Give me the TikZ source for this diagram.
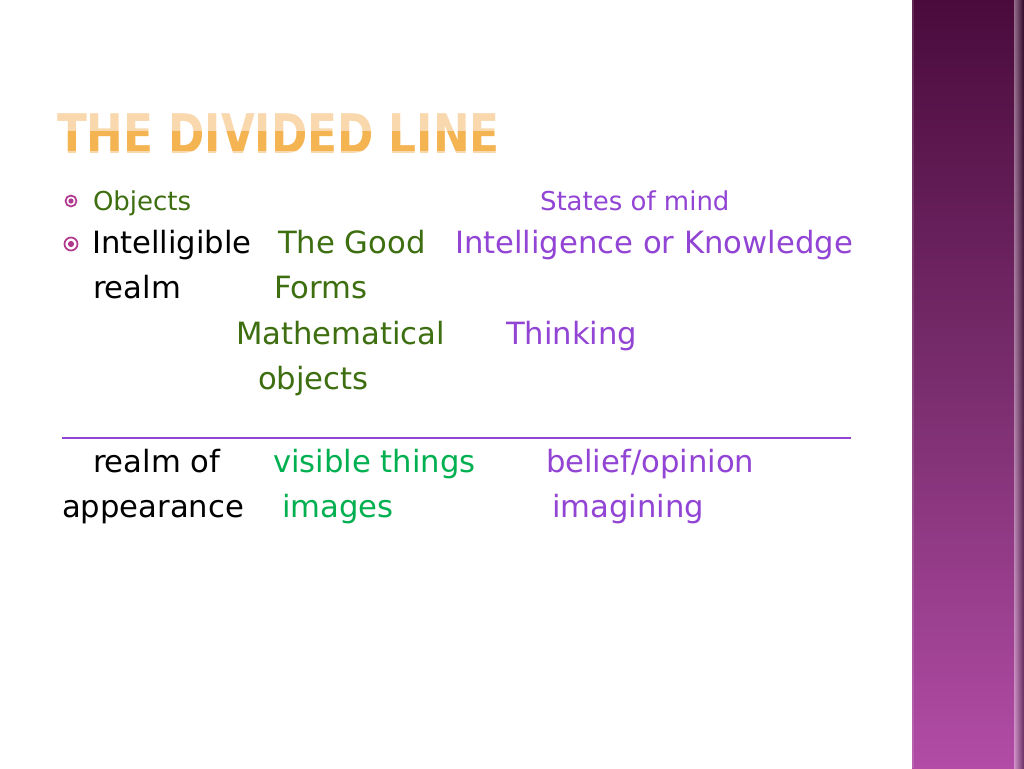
\documentclass[tikz,border=0pt]{standalone}
\usepackage{fontspec}
\setmainfont{DejaVu Sans}
\usetikzlibrary{calc}
\definecolor{dkgreen}{HTML}{3D6E0F}
\definecolor{brgreen}{HTML}{00B050}
\definecolor{lila}{HTML}{9244D4}
\definecolor{bulletc}{HTML}{B0398E}
\definecolor{titlelight}{HTML}{FAD8AE}
\definecolor{titlemid}{HTML}{F5B452}
\definecolor{bartop}{HTML}{4A0B3C}
\definecolor{barmid}{HTML}{7A2D6E}
\definecolor{barbot}{HTML}{B24CA6}
\tikzset{
  txt/.style={anchor=base west,inner sep=0pt,outer sep=0pt},
  big/.style={txt,font=\fontsize{23}{28}\selectfont},
  small/.style={txt,font=\fontsize{19.5}{24}\selectfont},
  ttl/.style={txt,font=\bfseries\fontsize{41}{48}\selectfont},
  bul/.style={draw=bulletc,line width=1.3pt}
}
\newcommand{\ttltext}{\scalebox{0.80}[1.0]{THE DIVIDED LINE}}
\begin{document}
\begin{tikzpicture}[x=0.75pt,y=-0.75pt]
\useasboundingbox (0,0) rectangle (1024,768);
\fill[white] (0,0) rectangle (1024,768);
% side bar
\shade[top color=bartop,bottom color=barbot,middle color=barmid] (912,0) rectangle (1024,768);
\fill[white,opacity=0.12] (912,0) rectangle (914,768);
\shade[left color=black!0,right color=black,opacity=0.4] (1014,0) rectangle (1024,768);
% title (two-tone to suggest the gradient)
\node[ttl,text=titlelight] (title) at (57,153) {\ttltext};
\begin{scope}
  \clip (40,131) rectangle (520,150);
  \node[ttl,text=titlemid] (titleband) at (57,153) {\ttltext};
\end{scope}
% bullets
\coordinate (b1) at (71,201);
\coordinate (b2) at (71,244);
\draw[bul] (b1) circle (5.5);
\fill[bulletc] (b1) circle (2.6);
\draw[bul] (b2) circle (6.5);
\fill[bulletc] (b2) circle (3.1);
% row 1
\node[small,text=dkgreen] (objects) at (93,210) {Objects};
\node[small,text=lila] (states) at (540,210) {States of mind};
% row 2
\node[big,text=black] (intel) at (92,253) {Intelligible};
\node[big,text=dkgreen] (good) at (278,253) {The Good};
\node[big,text=lila] (know) at (455,253) {Intelligence or Knowledge};
% row 3
\node[big,text=black] (realm) at (93,298) {realm};
\node[big,text=dkgreen] (forms) at (274,298) {Forms};
% row 4
\node[big,text=dkgreen] (math) at (236,344) {Mathematical};
\node[big,text=lila] (think) at (506,344) {Thinking};
% row 5
\node[big,text=dkgreen] (mobj) at (258,389) {objects};
% dividing line
\coordinate (l1) at (62,438);
\coordinate (l2) at (851,438);
\draw[lila,line width=1.8pt] (l1) -- (l2);
% row 6
\node[big,text=black] (realmof) at (93,472) {realm of};
\node[big,text=brgreen] (visible) at (273,472) {visible things};
\node[big,text=lila] (belief) at (546,472) {belief/opinion};
% row 7
\node[big,text=black] (appear) at (62,517) {appearance};
\node[big,text=brgreen] (images) at (282,517) {images};
\node[big,text=lila] (imagining) at (552,517) {imagining};
\end{tikzpicture}
\end{document}
